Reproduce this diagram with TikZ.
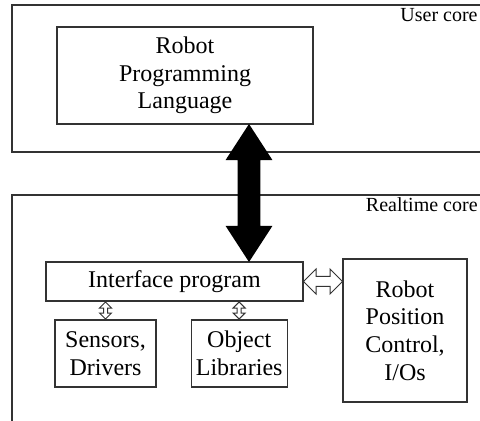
\documentclass[tikz,border=0pt]{standalone}
\usepackage{fontspec}
\setmainfont{Liberation Serif}
\usetikzlibrary{positioning,shapes.arrows}

\tikzset{
  block/.style={draw=black!80, line width=0.6pt, align=center, inner sep=2pt,
    font=\fontsize{12}{13.8}\selectfont},
  corelabel/.style={anchor=base east, inner sep=0pt, font=\fontsize{10}{12}\selectfont},
  frame/.style={draw=black!80, line width=0.6pt},
  bigarrow/.style={double arrow, sloped, fill=black, inner xsep=0pt, inner ysep=5.5pt,
    minimum width=23pt, double arrow head extend=6pt, double arrow tip angle=66,
    double arrow head indent=0pt, minimum height=#1},
  hollowarrow/.style={double arrow, sloped, draw=black!80, fill=white, line width=0.5pt,
    inner xsep=0pt, double arrow head indent=0pt, double arrow tip angle=90}
}

\begin{document}
\begin{tikzpicture}[x=0.5pt, y=-0.5pt]
  \useasboundingbox (0,0) rectangle (480,421);
  % core frames
  \draw[frame] (480,5) -| (12,152) -- (480,152);
  \draw[frame] (480,195) -| (12,421);
  \node[corelabel] (usercore) at (478,22) {User core};
  \node[corelabel] (rtcore) at (478,212) {Realtime core};
  % boxes
  \node[block, minimum width=128pt, minimum height=48.5pt] (rpl) at (185,75.5) {Robot\\Programming\\Language};
  \node[block, minimum width=128.5pt, minimum height=19.5pt] (iface) at (174.5,281.5) {Interface program};
  \node[block, minimum width=50.5pt, minimum height=33.5pt] (sens) at (105.5,353.5) {Sensors,\\Drivers};
  \node[block, minimum width=48pt, minimum height=33.5pt, right=17pt of sens] (obj) {Object\\Libraries};
  \node[block, minimum width=62pt, minimum height=71.5pt] (robot) at (405,330.5) {Robot\\Position\\Control,\\I/Os};
  % links
  \coordinate (axis) at (249,0);
  \path (axis |- rpl.south) -- node[bigarrow=69pt] (link) {} (axis |- iface.north);
  \path (iface.east) -- node[hollowarrow, minimum height=19.5pt, inner ysep=2.25pt,
    double arrow head extend=3.75pt] (ifrobot) {} (iface.east -| robot.west);
  \path (iface.south -| sens.north) -- node[hollowarrow, minimum height=8.5pt, inner ysep=0.75pt,
    double arrow head extend=2pt] (ifsens) {} (sens.north);
  \path (iface.south -| obj.north) -- node[hollowarrow, minimum height=8.5pt, inner ysep=0.75pt,
    double arrow head extend=2pt] (ifobj) {} (obj.north);
\end{tikzpicture}
\end{document}
